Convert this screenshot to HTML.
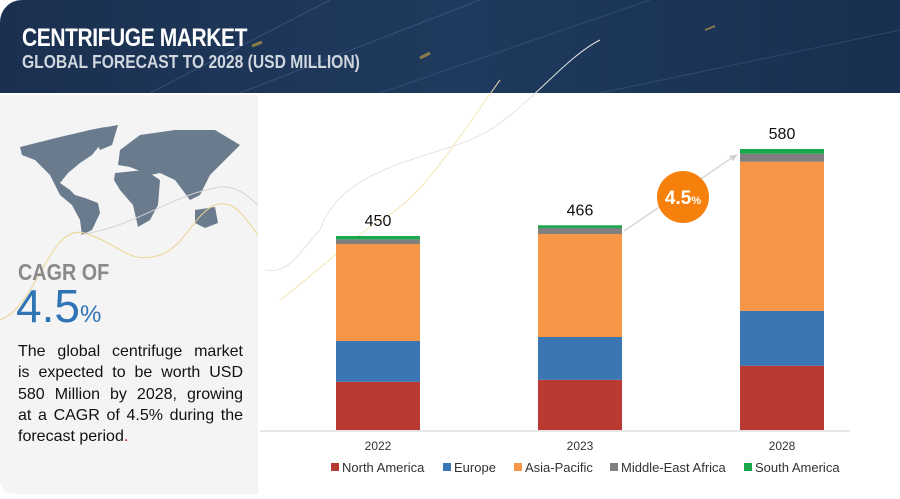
<!DOCTYPE html>
<html><head><meta charset="utf-8"><style>
body{margin:0;width:900px;height:499px;overflow:hidden;background:#fff;font-family:"Liberation Sans",sans-serif;position:relative}
#hdr{position:absolute;left:0;top:0;width:900px;height:93px;background:linear-gradient(90deg,#1b3050,#1f3a5e 50%,#18304f);border-top-left-radius:22px;overflow:hidden}
#left{position:absolute;left:0;top:95px;width:258px;height:399px;background:#f4f4f4;border-bottom-left-radius:14px}
.t1{position:absolute;left:22px;top:24px;color:#fff;font-weight:bold;font-size:25px;letter-spacing:-0.5px;transform:scaleX(0.84);transform-origin:left}
.t2{position:absolute;left:22px;top:52px;color:#d0d6de;font-weight:bold;font-size:18px;transform:scaleX(0.87);transform-origin:left}
.desc{position:absolute;left:18px;width:225px;font-size:16px;line-height:21.3px;color:#111}
.desc div{text-align:justify;text-align-last:justify;height:21.3px}
.desc div.last{text-align-last:left}
</style></head><body>
<div id="hdr">
<svg width="900" height="93" style="position:absolute;left:0;top:0">
<path d="M150,93 L330,0" stroke="#5a7aa0" stroke-width="1" opacity=".4"/>
<path d="M240,93 L480,0" stroke="#5a7aa0" stroke-width="1" opacity=".4"/>
<path d="M380,93 L650,0" stroke="#5a7aa0" stroke-width="1" opacity=".3"/>
<path d="M600,93 L900,30" stroke="#5a7aa0" stroke-width="1" opacity=".3"/>
<path d="M252,46 L262,42" stroke="#b89a40" stroke-width="3" opacity=".7"/>
<path d="M420,58 L430,53" stroke="#b89a40" stroke-width="3" opacity=".7"/>
<path d="M705,30 L715,26" stroke="#b89a40" stroke-width="2" opacity=".7"/>
</svg>
<div class="t1">CENTRIFUGE MARKET</div>
<div class="t2">GLOBAL FORECAST TO 2028 (USD MILLION)</div>
</div>
<div id="left">
<svg width="258" height="399" style="position:absolute;left:0;top:0">
<g fill="#6b7b8e">
<path d="M20,52 L60,42 L90,35 L105,32 L100,50 L92,60 L80,68 L68,78 L60,88 L70,95 L75,100 L85,103 L98,108 L100,118 L92,135 L82,140 L80,125 L72,110 L60,100 L50,80 L35,65 L22,60Z"/>
<path d="M90,35 L118,30 L112,50 L100,55Z"/>
<path d="M120,55 L140,40 L175,35 L215,35 L240,50 L225,65 L210,80 L200,100 L190,105 L175,85 L160,78 L150,80 L130,72 L118,70Z"/>
<path d="M115,78 L145,75 L160,85 L158,110 L150,125 L138,132 L133,110 L120,95 L114,85Z"/>
<path d="M195,115 L215,112 L218,128 L205,133 L195,128Z"/>
</g>
<path d="M0,225 C40,210 50,120 90,140 C120,150 130,170 160,160 C190,150 200,100 230,110 C250,120 258,150 280,160" stroke="#ecd590" fill="none" stroke-width="1"/>
<path d="M80,140 C140,130 170,100 220,92 C250,90 258,120 300,140" stroke="#d4d4d4" fill="none" stroke-width="1"/>
</svg>
<div style="position:absolute;left:18px;top:164px;font-size:23px;font-weight:bold;color:#8a8a8a;transform:scaleX(.86);transform-origin:left">CAGR OF</div>
<div style="position:absolute;left:16px;top:184px;font-size:46px;color:#2f74b5">4.5<span style="font-size:24px">%</span></div>
<div class="desc" style="top:246px">
<div>The global centrifuge market</div>
<div>is expected to be worth USD</div>
<div>580 Million by 2028, growing</div>
<div>at a CAGR of 4.5% during the</div>
<div class="last">forecast period<span style="color:#c00">.</span></div>
</div>
</div>
<svg id="chart" width="900" height="499" style="position:absolute;left:0;top:0">
<path d="M265,270 C290,275 300,250 320,230 C340,170 420,160 470,140 C520,120 560,60 600,40" stroke="#e4e4e4" fill="none"/>
<path d="M280,300 C320,270 350,240 380,220 C420,200 450,150 500,80" stroke="#f4e6b4" fill="none"/>
<line x1="260" y1="431" x2="850" y2="431" stroke="#e6e6e6" stroke-width="2"/>
<g id="bars"></g>
<line x1="624" y1="231" x2="736" y2="155" stroke="#d8d8d8" stroke-width="1.5"/>
<path d="M738,154 L729,156 L733,161Z" fill="#d0d0d0"/>
<circle cx="683" cy="197" r="26" fill="#f5800c"/>
<text x="683" y="204" text-anchor="middle" fill="#fff" font-size="19" font-weight="bold">4.5<tspan font-size="11">%</tspan></text>
<g id="legend"></g>
</svg>
<script>
const categories=["2022","2023","2028"];
const totals=[450,466,580];
const seriesNames=["North America","Europe","Asia-Pacific","Middle-East Africa","South America"];
const northAmerica=[232,235,256];
const europe=[61,64,82];
const asiaPacific=[145,154,223];
const middleEastAfrica=[7,9,12];
const southAmerica=[5,4,7];
const colors=["#b83a32","#3a76b3","#f79646","#7f7f7f","#1aa84c"];
const series=[northAmerica,europe,asiaPacific,middleEastAfrica,southAmerica];
const base=430,vmin=160,k=0.669;
const y=v=>base-(v-vmin)*k;
const xc=i=>378+i*202;
const bw=84;
const ns="http://www.w3.org/2000/svg";
const g=document.getElementById('bars');
categories.forEach((c,i)=>{
  let cum=vmin;
  series.forEach((s,j)=>{
    const start=(j===0)?vmin:cum;
    const end=(j===0)?s[i]:cum+s[i];
    const r=document.createElementNS(ns,'rect');
    r.setAttribute('x',xc(i)-bw/2);r.setAttribute('y',y(end));
    r.setAttribute('width',bw);r.setAttribute('height',y(start)-y(end));
    r.setAttribute('fill',colors[j]);
    
    
    g.appendChild(r);
    cum=end;
  });
  const t=document.createElementNS(ns,'text');
  t.setAttribute('x',xc(i));t.setAttribute('y',y(totals[i])-10);
  t.setAttribute('text-anchor','middle');t.setAttribute('font-size','16');t.setAttribute('fill','#111');
  t.textContent=totals[i];
  
  
  g.appendChild(t);
  const l=document.createElementNS(ns,'text');
  l.setAttribute('x',xc(i));l.setAttribute('y',450);
  l.setAttribute('text-anchor','middle');l.setAttribute('font-size','12');l.setAttribute('fill','#333');
  l.textContent=c;
  
  
  g.appendChild(l);
});
const lg=document.getElementById('legend');
const lx=[331,443,514,610,744];
seriesNames.forEach((n,j)=>{
  const r=document.createElementNS(ns,'rect');
  r.setAttribute('x',lx[j]);r.setAttribute('y',463);r.setAttribute('width',8);r.setAttribute('height',8);r.setAttribute('fill',colors[j]);
  
  
  lg.appendChild(r);
  const t=document.createElementNS(ns,'text');
  t.setAttribute('x',lx[j]+11);t.setAttribute('y',472);t.setAttribute('font-size','13');t.setAttribute('fill','#333');
  t.textContent=n;
  
  
  lg.appendChild(t);
});
</script>
</body></html>
